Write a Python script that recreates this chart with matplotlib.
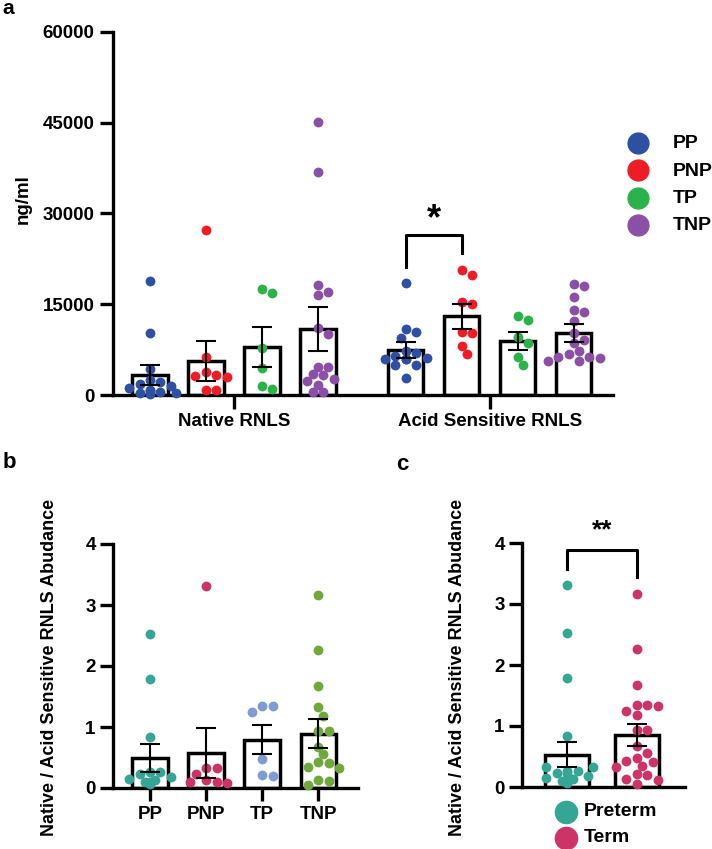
import numpy as np
import matplotlib.pyplot as plt
from matplotlib.lines import Line2D

plt.rcParams['font.family'] = ['Liberation Sans', 'DejaVu Sans']
plt.rcParams['font.weight'] = 'bold'

# ---- data ----
groups = ["PP", "PNP", "TP", "TNP"]
colors_a = ["#2d50a2", "#ee1c25", "#29b34a", "#8c4fa6"]
colors_b = ["#35a595", "#cc3366", "#7f9bd4", "#70a83b"]
color_preterm = "#35a595"
color_term = "#cc3366"

native_pp = [18800, 10300, 4300, 2400, 2100, 1900, 1500, 1200, 900, 700, 500, 400, 300, 200]
native_pnp = [27200, 6200, 3800, 3300, 3200, 3000, 900, 800]
native_tp = [17500, 16800, 7700, 4500, 1500, 1000]
native_tnp = [45200, 36900, 18100, 17100, 16600, 11000, 10000, 4700, 4600,
              3500, 3300, 2700, 2300, 1700, 500, 500]
acid_pp = [18500, 10900, 10400, 9500, 7300, 7000, 6400, 6100, 6000, 6000,
           5900, 5000, 4900, 2800]
acid_pnp = [20600, 19800, 15300, 15000, 10400, 10200, 8100, 6800]
acid_tp = [13000, 12400, 9600, 8600, 6200, 5000]
acid_tnp = [18300, 18000, 16200, 14000, 13700, 12200, 10200, 9100, 8600,
            7300, 6800, 6300, 6200, 6100, 5700, 5600]

native_mean = [3300, 5600, 7900, 10900]
native_sem = [1700, 3300, 3300, 3600]
acid_mean = [7400, 13000, 8900, 10200]
acid_sem = [1300, 2100, 1500, 1500]

ratio_pp = [2.52, 1.78, 0.84, 0.26, 0.26, 0.23, 0.18, 0.15, 0.13, 0.10, 0.10,
            0.10, 0.08, 0.07]
ratio_pnp = [3.31, 0.32, 0.32, 0.23, 0.13, 0.10, 0.10, 0.09]
ratio_tp = [1.34, 1.34, 1.24, 0.47, 0.22, 0.19]
ratio_tnp = [3.17, 2.27, 1.67, 1.32, 1.18, 0.93, 0.93, 0.68, 0.55, 0.43, 0.41,
             0.34, 0.33, 0.13, 0.11, 0.05]
ratio_mean = [0.49, 0.57, 0.79, 0.89]
ratio_sem = [0.23, 0.41, 0.24, 0.24]

term_labels = ["Preterm", "Term"]
term_mean = [0.53, 0.86]
term_sem = [0.20, 0.18]

W, H = 712, 849
fig = plt.figure(figsize=(W / 100, H / 100), dpi=100)


def rect(x0, y0, x1, y1):
    return [x0 / W, 1 - y1 / H, (x1 - x0) / W, (y1 - y0) / H]


def fp(x, y):
    return x / W, 1 - y / H


def style(ax):
    for s in ["top", "right"]:
        ax.spines[s].set_visible(False)
    for s in ["left", "bottom"]:
        ax.spines[s].set_linewidth(2.4)
    ax.tick_params(width=2.4, length=9.5, labelsize=13.5, color="black")


def swarm(ax, xc, vals, color, diam=9.5):
    # simple beeswarm in pixel space
    pts = ax.transData.transform([(xc, v) for v in vals])
    x0 = pts[0, 0]
    placed = []
    for y in pts[:, 1]:
        for k in [0, 1, -1, 2, -2, 3, -3, 4, -4, 5, -5]:
            x = x0 + k * diam * 0.55
            if all((x - px) ** 2 + (y - py) ** 2 >= (diam * 0.92) ** 2 for px, py in placed):
                placed.append((x, y))
                break
        else:
            placed.append((x0, y))
    data = ax.transData.inverted().transform(placed)
    ax.scatter(data[:, 0], data[:, 1], s=50, color=color, linewidths=0,
               zorder=3, clip_on=False)


def bars(ax, pos, mean, sem):
    ax.bar(pos, mean, width=0.63, facecolor="white", edgecolor="black",
           linewidth=2.5, zorder=2)


def errs(ax, pos, mean, sem):
    ax.errorbar(pos, mean, yerr=sem, fmt="none", ecolor="black",
                elinewidth=1.5, capsize=7, capthick=1.5, zorder=4)


# ---- panel a ----
ax = fig.add_axes(rect(113, 32, 613, 395))
style(ax)
pos_n = np.arange(4)
pos_a = np.arange(4) + 4.57
ax.set_xlim(-0.66, pos_a[-1] + 0.7)
ax.set_ylim(0, 60000)
ax.set_yticks([0, 15000, 30000, 45000, 60000])
ax.tick_params(axis="y", pad=4)
ax.set_xticks([pos_n.mean(), pos_a.mean()])
ax.set_xticklabels(["Native RNLS", "Acid Sensitive RNLS"])
ax.tick_params(axis="x", length=10, pad=3)
bars(ax, pos_n, native_mean, native_sem)
bars(ax, pos_a, acid_mean, acid_sem)
for i, vals in enumerate([native_pp, native_pnp, native_tp, native_tnp]):
    swarm(ax, pos_n[i], vals, colors_a[i])
for i, vals in enumerate([acid_pp, acid_pnp, acid_tp, acid_tnp]):
    swarm(ax, pos_a[i], vals, colors_a[i])
errs(ax, pos_n, native_mean, native_sem)
errs(ax, pos_a, acid_mean, acid_sem)
ax.plot([pos_a[0], pos_a[0], pos_a[1], pos_a[1]], [21100, 26500, 26500, 23400],
        color="black", lw=2.2, clip_on=False)
ax.text((pos_a[0] + pos_a[1]) / 2, 29000, "*", ha="center", va="center",
        fontsize=26, fontweight="bold")
fig.text(*fp(23, 199), "ng/ml", rotation=90, ha="center", va="center",
         fontsize=13.5, fontweight="bold")
fig.text(*fp(2, 9), "a", ha="left", va="center", fontsize=15, fontweight="bold")

# legend a
for i, g in enumerate(groups):
    y = 143 + i * 27.3
    fig.add_artist(Line2D([638 / W], [1 - y / H], marker="o", markersize=15,
                          color=colors_a[i], lw=0, transform=fig.transFigure))
    fig.text(*fp(673, y + 1), g, ha="left", va="center", fontsize=14,
             fontweight="bold")

# ---- panel b ----
ax = fig.add_axes(rect(113, 544, 358, 788))
style(ax)
pos = np.arange(4)
ax.set_xlim(-0.66, 3.71)
ax.set_ylim(0, 4)
ax.set_yticks([0, 1, 2, 3, 4])
ax.tick_params(axis="y", pad=3)
ax.set_xticks(pos)
ax.set_xticklabels(groups)
ax.tick_params(axis="x", length=9, pad=4)
bars(ax, pos, ratio_mean, ratio_sem)
for i, vals in enumerate([ratio_pp, ratio_pnp, ratio_tp, ratio_tnp]):
    swarm(ax, pos[i], vals, colors_b[i])
errs(ax, pos, ratio_mean, ratio_sem)
fig.text(*fp(50, 667), "Native / Acid Sensitive RNLS Abudance", rotation=90,
         ha="center", va="center", fontsize=13, fontweight="bold")
fig.text(*fp(3, 463), "b", ha="left", va="center", fontsize=16, fontweight="bold")

# ---- panel c ----
ax = fig.add_axes(rect(522, 543, 685, 787))
style(ax)
pos = np.arange(2)
ax.set_xlim(-0.65, 1.69)
ax.set_ylim(0, 4)
ax.set_yticks([0, 1, 2, 3, 4])
ax.tick_params(axis="y", pad=3)
ax.set_xticks([])
bars(ax, pos, term_mean, term_sem)
swarm(ax, 0, ratio_pp + ratio_pnp, color_preterm)
swarm(ax, 1, ratio_tp + ratio_tnp, color_term)
errs(ax, pos, term_mean, term_sem)
ax.plot([0, 0, 1, 1], [3.58, 3.89, 3.89, 3.45], color="black", lw=2.2,
        clip_on=False)
ax.text(0.5, 4.2, "**", ha="center", va="center", fontsize=19,
        fontweight="bold", clip_on=False)
fig.text(*fp(458, 667), "Native / Acid Sensitive RNLS Abudance", rotation=90,
         ha="center", va="center", fontsize=13, fontweight="bold")
fig.text(*fp(396, 465), "c", ha="left", va="center", fontsize=16, fontweight="bold")

for i, (lab, col) in enumerate(zip(term_labels, [color_preterm, color_term])):
    y = 812 + i * 26
    fig.add_artist(Line2D([566 / W], [1 - y / H], marker="o", markersize=16,
                          color=col, lw=0, transform=fig.transFigure))
    fig.text(*fp(584, y), lab, ha="left", va="center", fontsize=14,
             fontweight="bold")

fig.savefig("out.png", dpi=100)
